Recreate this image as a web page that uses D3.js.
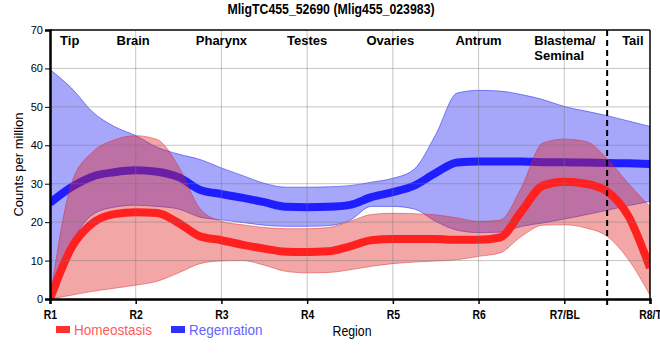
<!DOCTYPE html>
<html>
<head>
<meta charset="utf-8">
<script src="https://cdn.jsdelivr.net/npm/d3@7"></script>
<style>
  html, body { margin: 0; padding: 0; background: #fff; }
  svg { display: block; }
  .narrow { font-family: "Liberation Sans Narrow", "Arial Narrow", "Liberation Sans", Arial, sans-serif; }
  .sans { font-family: "Liberation Sans", Arial, sans-serif; }
</style>
</head>
<body>
<svg id="chart" width="660" height="360"></svg>
<script>
// ---------------- data ----------------
const title = "MligTC455_52690 (Mlig455_023983)";
const tickLabels = ["R1", "R2", "R3", "R4", "R5", "R6", "R7/BL", "R8/T"];
const tickPositions = [1, 2, 3, 4, 5, 6, 7, 8];
const yTicks = [0, 10, 20, 30, 40, 50, 60, 70];
const regionNames = ["Tip", "Brain", "Pharynx", "Testes", "Ovaries", "Antrum", "Blastema/\nSeminal", "Tail"];
const regionNamePositions = [1.23, 1.97, 3, 4, 4.97, 6, 6.65, 7.8];
const dividerPosition = 7.5;

// sample positions along the body axis (region index)
const positions = [1, 1.25, 1.5, 1.75, 2, 2.25, 2.5, 2.75, 3, 3.25, 3.5, 3.75, 4, 4.25, 4.5, 4.75,
                   5, 5.25, 5.5, 5.75, 6, 6.25, 6.5, 6.75, 7, 7.25, 7.5, 7.75, 8];

// Homeostasis (red)
const homMean  = [0, 13.3, 19.8, 22.1, 22.6, 22.4, 19.8, 16.3, 15.3, 14.1, 13.1, 12.3, 12.2, 12.4, 13.7, 15.3,
                  15.6, 15.6, 15.6, 15.4, 15.4, 16.0, 22.8, 29.5, 30.5, 30.0, 28.0, 21.5, 8.1];
const homUpper = [0, 30, 38.3, 41.4, 42.5, 41.5, 34.5, 23.5, 20.2, 19.3, 18.6, 18.3, 18.3, 18.6, 20.2, 22.0,
                  22.3, 22.2, 21.9, 21.1, 20.2, 20.5, 29, 40.6, 41.6, 41.0, 36.5, 30, 24];
const homLower = [0, 1.0, 2.0, 2.8, 3.6, 4.6, 6.8, 9.2, 9.9, 10.0, 8.8, 7.2, 6.8, 6.9, 7.6, 8.5,
                  9.2, 9.6, 9.9, 10.2, 11.1, 12.0, 16.3, 19.2, 19.3, 18.5, 16.3, 10.2, 1.0];

// Regeneration (blue)
const regMean  = [25.0, 29.1, 31.9, 33.0, 33.5, 33.1, 31.7, 28.4, 27.3, 26.3, 25.2, 24.0, 23.9, 24.0, 24.5, 26.5,
                  27.8, 29.5, 32.8, 35.5, 35.8, 35.8, 35.8, 35.6, 35.6, 35.5, 35.4, 35.3, 35.1];
const regUpper = [59.7, 54.9, 48.6, 44.9, 42.5, 39.5, 37.7, 36.3, 34.1, 32.1, 30.1, 29.1, 29.1, 29.2, 29.5, 30.4,
                  31.4, 33.8, 42.8, 53.6, 54.3, 54.1, 53.2, 51.9, 50.1, 48.9, 47.7, 46.3, 44.9];
const regLower = [0, 14.5, 22.0, 23.9, 24.4, 24.1, 23.4, 21.3, 20.6, 19.9, 19.2, 18.9, 18.9, 19.1, 20.5, 24.1,
                  24.1, 23.4, 20.2, 17.9, 17.3, 17.4, 18.9, 19.8, 20.8, 21.9, 23.1, 24.3, 25.4];

const legendLabels = ["Homeostasis", "Regenration"];
const xTitle = "Region";
const yTitle = "Counts per million";

// ---------------- drawing ----------------
const svg = d3.select("#chart");
const margin = {left: 50, right: 10, top: 30, bottom: 61};
const W = 660, H = 360;
const x = d3.scaleLinear().domain([1, 8]).range([margin.left, W - margin.right]);
const y = d3.scaleLinear().domain([0, 70]).range([H - margin.bottom, margin.top]);

// horizontally condense text (narrow-font look) keeping its height
function condense(sel, factor) {
  sel.each(function () {
    const w = this.getComputedTextLength();
    if (w > 0) d3.select(this).attr("textLength", w * factor).attr("lengthAdjust", "spacingAndGlyphs");
  });
}

svg.append("defs").append("clipPath").attr("id", "plotclip")
  .append("rect").attr("x", x(1)).attr("y", y(70)).attr("width", x(8) - x(1)).attr("height", y(0) - y(70));

const plot = svg.append("g").attr("clip-path", "url(#plotclip)");

function series(mean, lo, hi) {
  return positions.map((p, i) => ({p, m: mean[i], lo: lo[i], hi: hi[i]}));
}
const hom = series(homMean, homLower, homUpper);
const reg = series(regMean, regLower, regUpper);

const area = d3.area().curve(d3.curveMonotoneX)
  .x(d => x(d.p)).y0(d => y(d.lo)).y1(d => y(d.hi));
const line = d3.line().curve(d3.curveMonotoneX)
  .x(d => x(d.p)).y(d => y(d.m));

// Regeneration band + line
plot.append("path").datum(reg).attr("d", area)
  .attr("fill", "rgb(32,32,242)").attr("fill-opacity", 0.4)
  .attr("stroke", "rgb(32,32,242)").attr("stroke-opacity", 0.5).attr("stroke-width", 1);
plot.append("path").datum(reg).attr("d", line)
  .attr("fill", "none").attr("stroke", "rgb(30,30,255)").attr("stroke-width", 8);

// Homeostasis band + line
plot.append("path").datum(hom).attr("d", area)
  .attr("fill", "rgb(222,33,33)").attr("fill-opacity", 0.4)
  .attr("stroke", "rgb(222,33,33)").attr("stroke-opacity", 0.45).attr("stroke-width", 1);
plot.append("path").datum(hom).attr("d", line)
  .attr("fill", "none").attr("stroke", "rgb(255,32,32)").attr("stroke-width", 8);

// gridlines (drawn over, semi-transparent)
const grid = svg.append("g");
grid.selectAll(".hg").data(yTicks.filter(v => v > 0 && v < 70)).join("line")
  .attr("x1", x(1)).attr("x2", x(8)).attr("y1", d => y(d)).attr("y2", d => y(d))
  .attr("stroke", "rgb(120,120,120)").attr("stroke-opacity", 0.42).attr("stroke-width", 1);
grid.selectAll(".vg").data(tickPositions.filter(v => v > 1 && v < 8)).join("line")
  .attr("x1", d => x(d)).attr("x2", d => x(d)).attr("y1", y(0)).attr("y2", y(70))
  .attr("stroke", "rgb(120,120,120)").attr("stroke-opacity", 0.42).attr("stroke-width", 1);

// divider
svg.append("line")
  .attr("x1", x(dividerPosition)).attr("x2", x(dividerPosition))
  .attr("y1", y(70)).attr("y2", y(0) + 6)
  .attr("stroke", "#000").attr("stroke-width", 2).attr("stroke-dasharray", "6,4");

// frame (top / right thin)
svg.append("line").attr("x1", x(1)).attr("x2", x(8)).attr("y1", y(70)).attr("y2", y(70))
  .attr("stroke", "#000").attr("stroke-width", 1.5);
svg.append("line").attr("x1", x(8)).attr("x2", x(8)).attr("y1", y(70)).attr("y2", y(0))
  .attr("stroke", "#000").attr("stroke-width", 1.5);

// axes
const xAxis = svg.append("g").attr("transform", `translate(0,${y(0)})`)
  .call(d3.axisBottom(x).tickValues(tickPositions).tickFormat((d, i) => tickLabels[i]).tickSizeOuter(0).tickSize(5));
xAxis.select(".domain").attr("stroke-width", 2.5);
xAxis.selectAll(".tick line").attr("stroke-width", 1.5);
xAxis.selectAll("text").attr("class", "narrow").attr("font-weight", "bold")
  .attr("font-size", 13).attr("fill", "#000").attr("dy", "0.9em");
condense(xAxis.selectAll("text"), 0.8);

const yAxis = svg.append("g").attr("transform", `translate(${x(1)},0)`)
  .call(d3.axisLeft(y).tickValues(yTicks).tickSizeOuter(0).tickSize(5));
yAxis.select(".domain").attr("stroke-width", 2.5);
yAxis.selectAll("text").attr("class", "sans").attr("font-size", 11).attr("fill", "#000").attr("x", -7);

// region names at top
const rn = svg.append("g").attr("class", "sans").attr("font-weight", "bold").attr("font-size", 13).attr("fill", "#000");
regionNames.forEach((name, i) => {
  const parts = name.split("\n");
  const t = rn.append("text").attr("x", x(regionNamePositions[i])).attr("y", 45)
    .attr("text-anchor", parts.length > 1 ? "start" : "middle");
  parts.forEach((s, j) => t.append("tspan").attr("x", x(regionNamePositions[i])).attr("dy", j ? 15 : 0).text(s));
});

// title
const titleText = svg.append("text").attr("class", "narrow").attr("x", 331).attr("y", 14)
  .attr("text-anchor", "middle").attr("font-weight", "bold").attr("font-size", 15).text(title);
condense(titleText, 0.82);

// y title
svg.append("text").attr("class", "sans").attr("font-size", 13)
  .attr("transform", `translate(23,${(y(0) + y(70)) / 2}) rotate(-90)`)
  .attr("text-anchor", "middle").text(yTitle);

// x title
const xt = svg.append("text").attr("class", "narrow").attr("font-size", 15)
  .attr("x", (x(1) + x(8)) / 2 + 2).attr("y", 336).attr("text-anchor", "middle").text(xTitle);
condense(xt, 0.82);

// legend
const legendColors = ["rgb(255,48,48)", "rgb(48,48,255)"];
const legendTextColors = ["rgb(255,90,90)", "rgb(100,100,255)"];
const legendX = [56, 171];
legendLabels.forEach((lab, i) => {
  svg.append("rect").attr("x", legendX[i]).attr("y", 326).attr("width", 14).attr("height", 7)
    .attr("fill", legendColors[i]);
  const lt = svg.append("text").attr("class", "narrow").attr("font-size", 15)
    .attr("x", legendX[i] + 18).attr("y", 335).attr("fill", legendTextColors[i]).text(lab);
  condense(lt, 0.9);
});
</script>
</body>
</html>
